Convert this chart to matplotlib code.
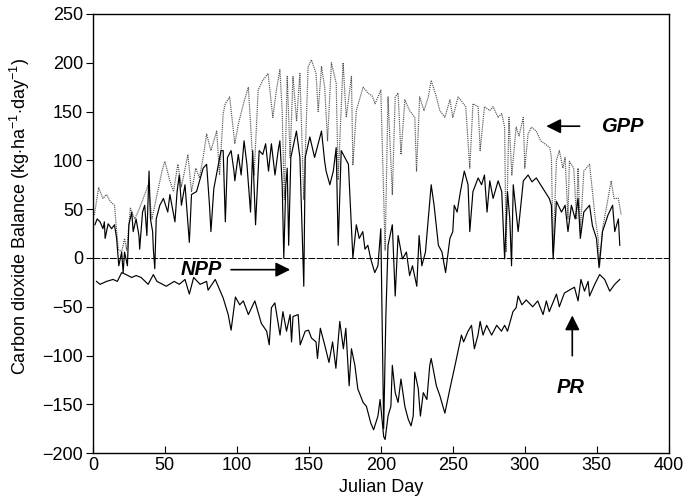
import matplotlib
matplotlib.use("Agg")
import matplotlib.pyplot as plt

# GPP (dotted) as (day, value) vertices
gpp_day = [1, 4, 7, 9.5, 12, 15, 17.6, 20, 22, 23.5, 26, 29, 31, 35, 38.5, 41, 44, 48, 50, 53.5,
           56, 59, 61.5, 66, 68.5, 71.5, 74, 76.6, 79, 82, 86, 88, 90.5, 92, 95, 98.6, 101, 104.6,
           108, 110.6, 112, 114.8, 118, 121.7, 125, 127.5, 129.9, 131.5, 133, 135, 137, 139, 141.5,
           143.8, 146.5, 149.5, 151.8, 155, 156.5, 158.8, 161, 163, 165.7, 169, 170.4, 173.8, 176,
           179.6, 180.6, 183, 187.7, 191, 194, 196, 198, 200, 203, 205, 208, 210, 212, 214, 216.7,
           220, 223.6, 224.8, 227, 230, 233, 235, 238.6, 241, 244.5, 248, 250, 253.7, 259, 261.8,
           264, 267.6, 269, 272, 275.7, 278, 281.5, 284, 286, 287, 289, 291, 294, 296, 299, 300,
           302.3, 304.6, 308, 311, 314, 317.4, 318.5, 319.7, 322, 324, 326.5, 328, 330, 331, 334,
           336, 337, 338.6, 341, 345, 346.5, 349, 351, 352, 354, 357, 360, 362, 365, 367]
gpp_val = [44, 72, 61, 65, 58, 54, 9, 6, 20, 8, 51, 40, 46, 61, 75, 40, 61, 89, 99, 79,
           68, 96, 73, 106, 68, 92, 82, 103, 127, 110, 130, 85, 148, 158, 165, 117, 137, 158,
           175, 110, 85, 172, 182, 189, 144, 172, 193, 150, 60, 186, 103, 186, 140,
           189, 60, 196, 203, 189, 150, 196, 175, 120, 200, 179, 80, 200, 144,
           186, 95, 151, 175, 169, 166, 158, 165, 172, 8, 165, 65, 165, 169, 106, 162,
           151, 144, 89, 165, 151, 165, 182, 165, 151, 144, 162, 144, 165, 155, 92,
           158, 155, 110, 155, 151, 155, 144, 148, 134, 6, 144, 85, 134, 125, 144, 92,
           127, 134, 130, 120, 117, 113, 103, 6, 100, 110, 92, 103, 40, 99, 92,
           40, 92, 27, 89, 96, 75, 40, 20, -8, 30, 54, 79, 61, 61, 44]

# NPP (solid upper line)
npp_day = [1.4, 3, 5, 7, 8, 8.5, 10.6, 13, 15, 16.5, 18, 20, 21, 22, 24, 25, 27, 28, 30, 32,
           32.5, 34.5, 36, 37.5, 39, 40, 41.5, 42, 43, 44, 46.5, 49, 52, 53.5, 57, 58.5, 60, 61.5,
           64, 67, 68.5, 72, 76.6, 79, 81, 82, 84, 89, 90.5, 92, 93.5, 96, 98, 98.6, 101, 103, 105,
           107, 109.5, 111, 113, 115.5, 118, 120, 122, 124, 126.5, 128.7, 129.9, 131.5, 132.6, 134,
           135, 136, 137.5, 141.4, 143.8, 146.5, 147.5, 150.7, 154, 158.8, 161, 162, 164.6, 167,
           169, 170.4, 172.5, 175, 177.5, 180.6, 183, 185, 187.5, 189, 191, 193, 195.8, 198, 200,
           202, 203.5, 205, 208, 210, 212, 215, 217.8, 220, 222, 225, 226.6, 228.5, 231, 233, 235,
           237, 240, 242.5, 245, 248, 250, 251, 253, 255.3, 258, 260.6, 261.8, 264, 267.6, 270, 272,
           273.8, 275.7, 278, 281.5, 284, 286, 288, 289.6, 290.8, 292, 295.4, 299, 302.3, 305, 308,
           311, 314, 317, 318.5, 319.7, 322, 325.5, 328, 330, 332.4, 335, 337, 338.6, 341, 345, 347,
           349.8, 351.6, 354, 357.8, 361, 362.5, 365, 366]
npp_val = [34, 40, 37, 30, 37, 20, 35, 30, 34, 20, -8, 6, -15, 6, -8, 34, 47, 27, 40, 23,
           9, 47, 54, 23, 89, 40, 27, 9, -11, 40, 54, 61, 47, 65, 37, 68, 85, 54,
           75, 16, 65, 68, 92, 96, 54, 27, 71, 110, 110, 37, 103, 110, 89, 79, 106, 85, 120,
           96, 47, 110, 34, 110, 106, 117, 89, 117, 85, 110, 120, 75, 0, 75,
           92, 13, 103, 130, 103, -29, 103, 124, 103, 130, 99, 89, 75, 89,
           113, 13, 110, 103, 96, 0, 34, 20, 27, 9, 13, -1, -15, -8, 30,
           -175, -60, 13, 34, -39, 23, -1, 6, -18, -8, -29, 23, -8, 6, 40, 75,
           54, 13, 6, -15, 20, 27, 54, 47, 68, 89, 75, 27, 68, 82, 75, 85,
           47, 79, 61, 79, 68, -1, 68, 40, -8, 75, 27, 79, 85, 78, 82,
           75, 68, 61, 54, -1, 58, 47, 54, 27, 54, 40, 61, 20, 47, 54, 33,
           20, -10, 27, 44, 54, 27, 40, 13]

# PR (solid lower line)
pr_day = [2.5, 5, 9.5, 14, 17, 20, 23, 27, 30, 33.5, 38.4, 42, 44.5, 51, 56.5, 60, 64, 67, 70,
          74.5, 79, 80, 85, 90.5, 94, 96, 99, 102, 104.5, 108, 112.5, 117, 120.7, 122.5, 124,
          126.4, 130, 132, 134.5, 137, 138, 139, 142.6, 144, 147.5, 149.8, 151.8, 155, 156, 158,
          161, 164, 166.5, 168.8, 171.5, 174, 175.7, 178, 179.6, 182, 184, 187.7, 190, 193, 195,
          198, 199.5, 202, 203, 205, 207, 208, 210, 212, 214, 216.7, 219, 221, 222.5, 223.6, 226,
          227.5, 229.5, 232, 234, 235, 238.6, 241, 244.5, 248, 251, 252, 256, 257.5, 260.6, 263,
          265, 267.5, 269, 271, 273.5, 277, 280.5, 283.8, 286, 288, 291.8, 294, 295.4, 298, 301,
          305.5, 309, 312.7, 315, 317, 322, 324, 327.5, 332, 334.5, 337, 339, 341.5, 344, 345,
          348.6, 352, 355.5, 359, 362.5, 366]
pr_val = [-24, -27, -24, -22, -24, -15, -17, -20, -18, -20, -27, -17, -24, -29, -24, -27, -22, -37, -20,
          -27, -24, -33, -22, -41, -58, -74, -40, -48, -44, -58, -44, -67, -75, -89, -51,
          -46, -79, -55, -75, -58, -86, -60, -58, -89, -75, -74, -82, -86, -103, -72,
          -89, -107, -86, -113, -65, -93, -72, -131, -93, -110, -134, -148, -152, -169, -176,
          -162, -145, -183, -186, -162, -152, -110, -138, -148, -124, -152, -165, -172, -162, -117, -134,
          -162, -138, -145, -110, -103, -131, -141, -159, -134, -114, -107, -79, -86, -75, -69,
          -93, -79, -65, -79, -69, -79, -69, -75, -69, -75, -55, -51, -39, -48, -43,
          -50, -44, -58, -44, -55, -37, -50, -36, -32, -30, -44, -22, -34, -24, -39,
          -27, -17, -22, -34, -27, -22]

plt.rcParams['font.family'] = ['Liberation Sans', 'DejaVu Sans']
plt.rcParams['mathtext.fontset'] = 'custom'
plt.rcParams['mathtext.rm'] = 'Liberation Sans'
plt.rcParams['mathtext.it'] = 'Liberation Sans:italic'

fig = plt.figure(figsize=(6.88, 4.98), dpi=100)
ax = fig.add_axes([0.135, 0.09, 0.837, 0.882])

ax.axhline(0, color='black', lw=0.7, linestyle=(0, (7, 1.5)))
ax.plot(gpp_day, gpp_val, color='#555555', lw=0.85, linestyle=(0, (1, 0.8)))
ax.plot(npp_day, npp_val, color='black', lw=0.85)
ax.plot(pr_day, pr_val, color='black', lw=0.85)

ax.set_xlim(0, 400)
ax.set_ylim(-200, 250)
ax.set_xticks(range(0, 401, 50))
ax.set_yticks(range(-200, 251, 50))
ax.tick_params(axis='x', direction='in', length=5, labelsize=13, pad=3)
ax.tick_params(axis='y', direction='out', length=5, labelsize=13, pad=2)
for sp in ax.spines.values():
    sp.set_linewidth(1.0)

ax.set_xlabel('Julian Day', fontsize=13, labelpad=3)
ax.set_ylabel(r'Carbon dioxide Balance (kg$\cdot$ha$^{-1}$$\cdot$day$^{-1}$)', fontsize=13)
ax.yaxis.set_label_coords(-0.105, 0.54)

lbl = dict(fontsize=14.5, fontweight='bold', fontstyle='italic')
ax.annotate('', xy=(313, 135), xytext=(340, 135),
            arrowprops=dict(arrowstyle='-|>', color='black', lw=1.2, mutation_scale=22))
ax.text(353, 135, 'GPP', va='center', ha='left', **lbl)

ax.annotate('', xy=(139, -12), xytext=(94, -12),
            arrowprops=dict(arrowstyle='-|>', color='black', lw=1.2, mutation_scale=22))
ax.text(61, -12, 'NPP', va='center', ha='left', **lbl)

ax.annotate('', xy=(333, -56), xytext=(333, -103),
            arrowprops=dict(arrowstyle='-|>', color='black', lw=1.2, mutation_scale=22))
ax.text(332, -133, 'PR', va='center', ha='center', **lbl)

plt.savefig('out.png', dpi=100)
